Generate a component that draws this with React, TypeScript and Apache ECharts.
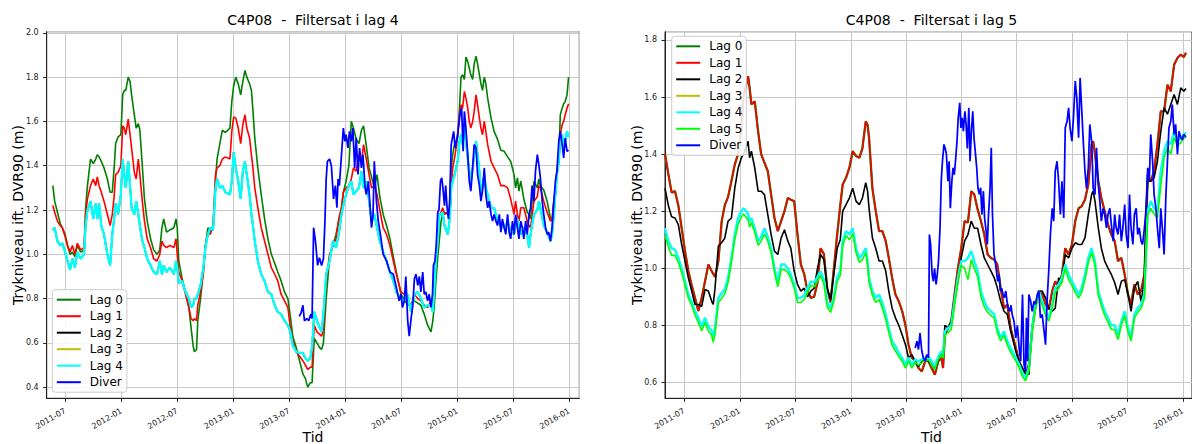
import React, { useEffect, useRef } from "react";
import * as echarts from "echarts";

const FONT = '"DejaVu Sans", "Liberation Sans", Arial, sans-serif';
const DAY = 24 * 3600 * 1000;

// ---------- Left panel: C4P08, filter in layer 4 ----------
const leftDates = [
  "2011-05-22", "2011-05-28", "2011-06-06", "2011-06-15", "2011-06-22", "2011-07-01", "2011-07-09", "2011-07-17",
  "2011-07-25", "2011-08-02", "2011-08-10", "2011-08-21", "2011-09-01", "2011-09-06", "2011-09-12", "2011-09-22",
  "2011-10-01", "2011-10-09", "2011-10-14", "2011-10-20", "2011-10-27", "2011-11-05", "2011-11-16", "2011-11-25",
  "2011-12-02", "2011-12-08", "2011-12-13", "2011-12-21", "2011-12-30", "2012-01-05", "2012-01-10", "2012-01-15",
  "2012-01-23", "2012-01-29", "2012-02-03", "2012-02-12", "2012-02-18", "2012-02-25", "2012-03-01", "2012-03-09",
  "2012-03-16", "2012-03-25", "2012-04-05", "2012-04-15", "2012-04-26", "2012-05-05", "2012-05-12", "2012-05-18",
  "2012-05-27", "2012-06-07", "2012-06-20", "2012-06-27", "2012-07-01", "2012-07-06", "2012-07-17", "2012-07-28",
  "2012-08-08", "2012-08-15", "2012-08-22", "2012-08-26", "2012-09-02", "2012-09-06", "2012-09-15", "2012-09-24",
  "2012-10-01", "2012-10-09", "2012-10-17", "2012-10-26", "2012-11-03", "2012-11-08", "2012-11-17", "2012-11-25",
  "2012-12-05",
  "2012-12-20", "2012-12-26", "2013-01-01", "2013-01-08", "2013-01-16", "2013-01-24", "2013-01-31", "2013-02-07",
  "2013-02-13", "2013-02-22", "2013-02-28", "2013-03-05", "2013-03-11", "2013-03-21", "2013-04-01", "2013-04-12",
  "2013-04-23", "2013-05-04", "2013-05-15", "2013-05-25", "2013-06-05", "2013-06-16", "2013-06-27", "2013-07-05",
  "2013-07-13", "2013-07-24", "2013-08-04", "2013-08-15", "2013-08-23", "2013-08-31", "2013-09-08", "2013-09-14",
  "2013-09-21", "2013-09-30", "2013-10-08", "2013-10-15", "2013-10-21", "2013-10-30", "2013-11-10", "2013-11-21",
  "2013-12-01", "2013-12-10", "2013-12-19", "2013-12-25", "2014-01-03", "2014-01-12", "2014-01-20", "2014-01-27",
  "2014-02-05", "2014-02-14", "2014-02-22", "2014-03-01", "2014-03-10", "2014-03-19", "2014-03-27", "2014-04-05",
  "2014-04-14", "2014-04-23", "2014-05-04", "2014-05-15", "2014-05-26", "2014-06-06", "2014-06-16",
  "2014-07-01", "2014-07-12", "2014-07-23", "2014-08-03", "2014-08-14", "2014-08-25", "2014-09-04", "2014-09-15",
  "2014-09-26", "2014-10-07", "2014-10-13", "2014-10-18", "2014-10-23", "2014-10-29", "2014-11-03", "2014-11-09",
  "2014-11-14", "2014-11-20", "2014-12-01", "2014-12-07", "2014-12-12", "2014-12-17", "2014-12-23", "2014-12-28",
  "2015-01-02", "2015-01-08", "2015-01-13", "2015-01-18", "2015-01-24", "2015-01-29", "2015-02-04", "2015-02-09",
  "2015-02-14", "2015-02-20", "2015-02-25", "2015-03-03", "2015-03-08", "2015-03-14", "2015-03-19", "2015-03-24",
  "2015-03-30", "2015-04-04", "2015-04-10", "2015-04-21", "2015-05-01", "2015-05-12", "2015-05-23", "2015-06-03",
  "2015-06-14", "2015-06-24", "2015-07-05", "2015-07-10", "2015-07-16", "2015-07-21", "2015-07-27", "2015-08-06",
  "2015-08-17", "2015-08-23", "2015-08-28", "2015-09-08", "2015-09-19", "2015-09-24", "2015-09-29", "2015-10-10",
  "2015-10-21", "2015-11-01", "2015-11-06", "2015-11-12", "2015-11-17", "2015-11-22", "2015-11-28", "2015-12-03",
  "2015-12-09", "2015-12-14", "2015-12-19", "2015-12-25", "2015-12-30",
];

const lag0Left = [
  1.31, 1.24, 1.19, 1.14, 1.12, 1.09, 1.04, 1.0, 1.01, 0.99, 1.04, 1.01, 1.02, 1.21, 1.31, 1.43,
  1.41, 1.43, 1.45, 1.44, 1.42, 1.39, 1.34, 1.28, 1.28, 1.39, 1.5, 1.53, 1.54, 1.72, 1.74, 1.74,
  1.8, 1.78, 1.72, 1.63, 1.57, 1.59, 1.56, 1.4, 1.25, 1.15, 1.07, 1.02, 1.0, 1.02, 1.12, 1.16,
  1.1, 1.11, 1.12, 1.16, 1.12, 0.97, 0.89, 0.83, 0.76, 0.67, 0.585, 0.56, 0.57, 0.7, 0.8, 0.92,
  1.04, 1.12, 1.1, 1.13, 1.34, 1.43, 1.5, 1.56, 1.55,
  1.57, 1.69, 1.76, 1.8, 1.77, 1.72, 1.78, 1.83, 1.8, 1.77, 1.74, 1.65, 1.525, 1.39, 1.27, 1.16,
  1.07, 1.0, 0.96, 0.92, 0.88, 0.83, 0.8, 0.72, 0.63, 0.58, 0.52, 0.46, 0.44, 0.4, 0.42, 0.42,
  0.62, 0.6, 0.58, 0.57, 0.6, 0.8, 0.985, 1.04, 1.09, 1.15, 1.21, 1.28, 1.33, 1.4, 1.6, 1.57,
  1.52, 1.5, 1.56, 1.58, 1.49, 1.39, 1.35, 1.3, 1.36, 1.26, 1.18, 1.13, 1.07, 0.99, 0.92,
  0.82, 0.795, 0.77, 0.77, 0.79, 0.78, 0.77, 0.73, 0.68, 0.65, 0.7, 0.77, 0.88, 0.985, 1.06, 1.15,
  1.18, 1.19, 1.18, 1.21, 1.39, 1.45, 1.5, 1.51, 1.525, 1.66, 1.8, 1.81, 1.79, 1.89, 1.87, 1.84,
  1.81, 1.79, 1.86, 1.895, 1.86, 1.81, 1.77, 1.74, 1.8, 1.77, 1.705, 1.615, 1.555, 1.52, 1.47, 1.465,
  1.44, 1.42, 1.36, 1.3, 1.345, 1.285, 1.33, 1.25, 1.19, 1.18, 1.16, 1.33, 1.3, 1.34, 1.31, 1.29,
  1.24, 1.16, 1.15, 1.24, 1.3, 1.375, 1.42, 1.63, 1.66, 1.68, 1.69, 1.72, 1.8,
];

const lag1Left = [
  1.22, 1.19, 1.15, 1.13, 1.12, 1.08, 1.04, 1.01, 1.04, 1.0, 1.05, 1.02, 1.03, 1.18, 1.25, 1.31,
  1.34, 1.31, 1.35, 1.31, 1.28, 1.24, 1.18, 1.13, 1.18, 1.26, 1.36, 1.37, 1.4, 1.58, 1.57, 1.54,
  1.61, 1.54, 1.48, 1.37, 1.34, 1.43, 1.36, 1.24, 1.15, 1.07, 1.03, 0.98, 0.97, 1.0, 1.06, 1.04,
  1.03, 1.04, 1.03, 1.07, 1.0, 0.92, 0.88, 0.82, 0.76, 0.71, 0.7, 0.71, 0.7, 0.77, 0.83, 0.91,
  1.04, 1.1, 1.09, 1.13, 1.36, 1.39, 1.4, 1.43, 1.44,
  1.43, 1.555, 1.62, 1.615, 1.57, 1.5, 1.585, 1.63, 1.57, 1.525, 1.45, 1.39, 1.3, 1.21, 1.12, 1.06,
  1.0, 0.94, 0.91, 0.88, 0.82, 0.79, 0.76, 0.67, 0.61, 0.56, 0.54, 0.52, 0.5, 0.48, 0.49, 0.49,
  0.68, 0.65, 0.64, 0.63, 0.66, 0.88, 1.0, 1.04, 1.07, 1.16, 1.21, 1.28, 1.3, 1.31, 1.34, 1.39,
  1.375, 1.45, 1.42, 1.495, 1.43, 1.36, 1.3, 1.31, 1.27, 1.2, 1.12, 1.09, 1.04, 0.97, 0.91,
  0.83, 0.82, 0.79, 0.77, 0.82, 0.8, 0.79, 0.77, 0.76, 0.79, 0.79, 0.88, 0.97, 1.04, 1.18, 1.19,
  1.21, 1.18, 1.19, 1.16, 1.3, 1.39, 1.435, 1.48, 1.54, 1.63, 1.675, 1.66, 1.735, 1.705, 1.66, 1.6,
  1.57, 1.6, 1.645, 1.72, 1.675, 1.615, 1.57, 1.54, 1.6, 1.555, 1.495, 1.42, 1.39, 1.36, 1.31, 1.31,
  1.3, 1.25, 1.18, 1.24, 1.18, 1.15, 1.21, 1.21, 1.15, 1.13, 1.12, 1.24, 1.26, 1.31, 1.3, 1.24,
  1.19, 1.15, 1.16, 1.24, 1.285, 1.375, 1.42, 1.54, 1.585, 1.6, 1.63, 1.66, 1.68,
];

// Lag 2, Lag 3 and Lag 4 run on top of each other in this panel
const lag2to4Left = [
  1.11, 1.12, 1.06, 1.04, 1.05, 1.01, 0.97, 0.93, 0.98, 0.94, 1.01, 0.98, 1.0, 1.13, 1.2, 1.24,
  1.16, 1.23, 1.16, 1.23, 1.13, 1.09, 1.0, 0.95, 1.09, 1.16, 1.23, 1.18, 1.27, 1.43, 1.36, 1.3,
  1.42, 1.31, 1.21, 1.18, 1.24, 1.18, 1.13, 1.06, 1.03, 0.98, 0.95, 0.92, 0.91, 0.97, 0.91, 0.95,
  0.92, 0.94, 0.91, 0.97, 0.94, 0.87, 0.88, 0.83, 0.8, 0.76, 0.77, 0.8, 0.8, 0.82, 0.86, 0.94,
  1.03, 1.09, 1.12, 1.11, 1.3, 1.34, 1.3, 1.31, 1.28,
  1.27, 1.33, 1.46, 1.39, 1.33, 1.25, 1.375, 1.42, 1.36, 1.27, 1.18, 1.13, 1.06, 0.97, 0.91, 0.88,
  0.83, 0.82, 0.77, 0.74, 0.73, 0.7, 0.68, 0.65, 0.59, 0.56, 0.555, 0.555, 0.53, 0.52, 0.53, 0.58,
  0.74, 0.7, 0.67, 0.65, 0.73, 0.91, 0.97, 1.06, 1.03, 1.09, 1.18, 1.22, 1.27, 1.31, 1.33, 1.27,
  1.285, 1.3, 1.375, 1.3, 1.33, 1.24, 1.15, 1.18, 1.12, 1.06, 1.01, 0.97, 0.92, 0.88, 0.83,
  0.8, 0.79, 0.82, 0.74, 0.82, 0.83, 0.8, 0.76, 0.77, 0.77, 0.74, 0.85, 0.97, 1.06, 1.18, 1.18,
  1.19, 1.13, 1.09, 1.16, 1.3, 1.33, 1.36, 1.39, 1.42, 1.51, 1.54, 1.495, 1.585, 1.51, 1.435, 1.375,
  1.33, 1.39, 1.45, 1.51, 1.45, 1.375, 1.27, 1.31, 1.36, 1.3, 1.27, 1.21, 1.21, 1.15, 1.13, 1.12,
  1.15, 1.1, 1.09, 1.13, 1.16, 1.12, 1.09, 1.12, 1.09, 1.03, 1.09, 1.18, 1.2, 1.24, 1.21, 1.13,
  1.1, 1.06, 1.09, 1.18, 1.27, 1.36, 1.42, 1.525, 1.54, 1.48, 1.51, 1.555, 1.53,
];

const diverLeftDates = [
  "2013-08-03", "2013-08-09", "2013-08-15", "2013-08-20", "2013-08-28", "2013-09-03", "2013-09-10", "2013-09-14",
  "2013-09-19", "2013-09-25", "2013-10-02", "2013-10-08", "2013-10-15", "2013-10-21", "2013-10-26", "2013-10-30",
  "2013-11-03", "2013-11-10", "2013-11-16", "2013-11-23", "2013-11-29", "2013-12-04", "2013-12-08", "2013-12-12",
  "2013-12-19", "2013-12-25", "2013-12-30", "2014-01-03", "2014-01-09", "2014-01-14", "2014-01-20", "2014-01-25",
  "2014-01-31", "2014-02-05", "2014-02-11", "2014-02-16", "2014-02-22", "2014-02-27", "2014-03-06", "2014-03-10",
  "2014-03-17", "2014-03-21", "2014-03-27", "2014-04-01", "2014-04-05", "2014-04-12", "2014-04-18", "2014-04-25",
  "2014-05-04", "2014-05-15", "2014-05-26", "2014-06-06", "2014-06-16", "2014-06-25", "2014-07-01", "2014-07-06",
  "2014-07-12", "2014-07-17", "2014-07-23", "2014-07-28", "2014-08-03", "2014-08-08", "2014-08-14", "2014-08-19",
  "2014-08-25", "2014-08-30", "2014-09-04", "2014-09-10", "2014-09-15", "2014-09-20", "2014-09-26", "2014-10-01",
  "2014-10-07", "2014-10-12", "2014-10-15", "2014-10-20", "2014-10-24", "2014-10-29", "2014-11-02", "2014-11-07",
  "2014-11-11", "2014-11-15", "2014-11-20", "2014-11-24", "2014-11-28", "2014-12-03", "2014-12-07", "2014-12-12",
  "2014-12-16", "2014-12-20", "2014-12-25", "2014-12-29", "2015-01-02", "2015-01-07", "2015-01-11", "2015-01-15",
  "2015-01-20", "2015-01-24", "2015-01-29", "2015-02-04", "2015-02-09", "2015-02-14", "2015-02-20", "2015-02-25",
  "2015-03-03", "2015-03-08", "2015-03-14", "2015-03-19", "2015-03-24", "2015-03-30", "2015-04-04", "2015-04-10",
  "2015-04-15", "2015-04-21", "2015-04-26", "2015-05-01", "2015-05-07", "2015-05-12", "2015-05-18", "2015-05-23",
  "2015-05-28", "2015-06-03", "2015-06-08", "2015-06-14", "2015-06-19", "2015-06-24", "2015-06-30", "2015-07-05",
  "2015-07-10", "2015-07-16", "2015-07-21", "2015-07-27", "2015-08-01", "2015-08-06", "2015-08-12", "2015-08-17",
  "2015-08-23", "2015-08-28", "2015-09-02", "2015-09-08", "2015-09-13", "2015-09-19", "2015-09-24", "2015-09-29",
  "2015-10-05", "2015-10-10", "2015-10-16", "2015-10-21", "2015-10-26", "2015-11-01", "2015-11-06", "2015-11-12",
  "2015-11-17", "2015-11-22", "2015-11-28", "2015-12-03", "2015-12-09", "2015-12-14", "2015-12-19", "2015-12-25",
  "2015-12-30",
];

const diverLeft = [
  0.72, 0.735, 0.77, 0.7, 0.71, 0.7, 0.73, 0.71, 1.12, 1.06, 0.95, 0.985, 0.95, 0.98, 1.15, 1.34,
  1.42, 1.43, 1.4, 1.25, 1.31, 1.21, 1.34, 1.31, 1.45, 1.57, 1.51, 1.54, 1.48, 1.555, 1.51, 1.57,
  1.39, 1.525, 1.36, 1.48, 1.39, 1.45, 1.3, 1.27, 1.33, 1.24, 1.12, 1.18, 1.42, 1.24, 1.15, 1.09,
  1.0, 0.97, 0.92, 0.91, 0.85, 0.79, 0.82, 0.76, 0.79, 0.9, 0.7, 0.63, 0.71, 0.76, 0.89, 0.91,
  0.86, 0.9, 0.83, 0.92, 0.82, 0.83, 0.79, 0.82, 0.76, 0.82, 0.95, 0.97, 1.04, 1.19, 1.2, 1.33,
  1.345, 1.3, 1.22, 1.31, 1.22, 1.16, 1.24, 1.495, 1.525, 1.555, 1.48, 1.51, 1.54, 1.6, 1.645, 1.66,
  1.465, 1.645, 1.57, 1.45, 1.33, 1.285, 1.39, 1.495, 1.48, 1.36, 1.31, 1.24, 1.285, 1.39, 1.27, 1.21,
  1.24, 1.18, 1.15, 1.18, 1.15, 1.13, 1.18, 1.1, 1.16, 1.12, 1.09, 1.18, 1.1, 1.07, 1.15, 1.09,
  1.18, 1.12, 1.07, 1.15, 1.12, 1.07, 1.15, 1.09, 1.18, 1.21, 1.31, 1.24, 1.375, 1.45, 1.405, 1.345,
  1.24, 1.18, 1.12, 1.09, 1.1, 1.06, 1.12, 1.24, 1.33, 1.375, 1.51, 1.555, 1.495, 1.435, 1.525, 1.465,
  1.47,
];

// ---------- Right panel: C4P08, filter in layer 5 ----------
const rightDates = [
  "2011-04-29", "2011-05-10", "2011-05-21", "2011-06-01", "2011-06-12", "2011-06-23", "2011-07-04", "2011-07-15",
  "2011-07-26", "2011-08-06", "2011-08-17", "2011-08-28", "2011-09-08", "2011-09-19", "2011-09-30", "2011-10-05",
  "2011-10-11", "2011-10-22", "2011-11-02", "2011-11-12", "2011-11-23", "2011-12-04", "2011-12-15", "2011-12-26",
  "2012-01-06", "2012-01-12", "2012-01-17", "2012-01-28", "2012-02-02", "2012-02-08", "2012-02-19", "2012-03-01",
  "2012-03-11", "2012-03-22", "2012-04-02", "2012-04-13", "2012-04-24", "2012-05-05", "2012-05-16", "2012-05-27",
  "2012-06-07", "2012-06-17", "2012-06-28", "2012-07-09", "2012-07-20", "2012-07-31", "2012-08-11", "2012-08-22",
  "2012-09-02", "2012-09-13", "2012-09-23", "2012-10-04", "2012-10-15", "2012-10-26", "2012-11-06", "2012-11-17",
  "2012-11-27",
  "2012-12-05", "2012-12-16", "2012-12-27", "2013-01-07", "2013-01-18", "2013-01-29", "2013-02-08", "2013-02-19",
  "2013-02-25", "2013-03-02", "2013-03-13", "2013-03-24", "2013-04-04", "2013-04-15", "2013-04-26", "2013-05-06",
  "2013-05-17", "2013-05-28", "2013-06-08", "2013-06-19", "2013-06-30", "2013-07-10", "2013-07-21", "2013-08-01",
  "2013-08-12", "2013-08-23", "2013-09-03", "2013-09-14", "2013-09-24", "2013-10-05", "2013-10-16", "2013-10-27",
  "2013-11-01", "2013-11-07", "2013-11-18", "2013-11-28", "2013-12-09", "2013-12-20", "2013-12-31", "2014-01-11",
  "2014-01-22", "2014-02-02", "2014-02-12", "2014-02-23", "2014-03-06", "2014-03-17", "2014-03-28", "2014-04-08",
  "2014-04-19", "2014-04-29", "2014-05-10", "2014-05-21", "2014-06-01", "2014-06-12",
  "2014-06-29", "2014-07-10", "2014-07-21", "2014-07-31", "2014-08-11", "2014-08-22", "2014-09-02", "2014-09-13",
  "2014-09-24", "2014-10-05", "2014-10-16", "2014-10-27", "2014-11-06", "2014-11-17", "2014-11-28", "2014-12-09",
  "2014-12-20", "2014-12-31", "2015-01-11", "2015-01-22", "2015-02-01", "2015-02-12", "2015-02-23", "2015-03-06",
  "2015-03-11", "2015-03-17", "2015-03-28", "2015-04-07", "2015-04-18", "2015-04-29", "2015-05-10", "2015-05-21",
  "2015-06-01", "2015-06-12", "2015-06-23", "2015-07-04", "2015-07-14", "2015-07-25", "2015-08-05", "2015-08-16",
  "2015-08-27", "2015-09-01", "2015-09-07", "2015-09-17", "2015-09-28", "2015-10-09", "2015-10-20", "2015-10-31",
  "2015-11-11", "2015-11-22", "2015-12-03", "2015-12-14", "2015-12-25", "2016-01-04", "2016-01-11",
];

// Lag 0 and Lag 1 practically coincide in this panel
const lag01Right = [
  1.4, 1.33, 1.265, 1.27, 1.22, 1.14, 1.06, 0.99, 0.94, 0.896, 0.85, 0.896, 0.954, 1.013, 0.99, 0.98,
  0.97, 1.025, 1.165, 1.22, 1.25, 1.305, 1.363, 1.4, 1.49, 1.6, 1.62, 1.673, 1.632, 1.574, 1.585, 1.48,
  1.4, 1.37, 1.34, 1.258, 1.176, 1.13, 1.165, 1.2, 1.246, 1.24, 1.235, 1.118, 1.013, 0.98, 0.92, 0.896,
  0.9, 0.95, 1.07, 1.05, 0.93, 0.88, 1.0, 1.12, 1.22,
  1.293, 1.317, 1.352, 1.41, 1.393, 1.387, 1.42, 1.515, 1.503, 1.457, 1.28, 1.2, 1.13, 1.13, 1.095, 1.036,
  0.966, 0.908, 0.884, 0.85, 0.8, 0.732, 0.686, 0.674, 0.65, 0.638, 0.674, 0.674, 0.65, 0.627, 0.674, 0.686,
  0.65, 0.767, 0.79, 0.814, 0.908, 1.0, 1.07, 1.165, 1.16, 1.27, 1.258, 1.206, 1.165, 1.118, 1.048, 1.036,
  1.03, 1.013, 0.931, 0.86, 0.873, 0.79,
  0.72, 0.674, 0.645, 0.62, 0.662, 0.79, 0.873, 0.92, 0.908, 0.873, 0.855, 0.92, 0.954, 0.931, 0.978, 1.07,
  1.048, 1.083, 1.165, 1.21, 1.217, 1.24, 1.293, 1.434, 1.445, 1.4, 1.305, 1.246, 1.2, 1.153, 1.118, 1.095,
  1.025, 1.036, 0.978, 0.908, 0.873, 0.943, 0.908, 0.92, 0.978, 1.118, 1.328, 1.305, 1.34, 1.434, 1.55, 1.55,
  1.643, 1.62, 1.713, 1.737, 1.749, 1.74, 1.755,
];

const lag2Right = [
  1.28, 1.22, 1.18, 1.176, 1.153, 1.083, 1.025, 0.966, 0.92, 0.873, 0.873, 0.866, 0.925, 0.92, 0.884, 0.873,
  0.93, 1.077, 1.09, 1.105, 1.165, 1.176, 1.28, 1.35, 1.387, 1.4, 1.41, 1.445, 1.387, 1.41, 1.352, 1.27,
  1.27, 1.258, 1.188, 1.118, 1.06, 1.048, 1.106, 1.135, 1.095, 1.07, 0.99, 0.943, 0.92, 0.93, 0.9, 0.92,
  0.93, 1.0, 1.048, 1.03, 0.93, 0.89, 0.98, 1.07, 1.1,
  1.2, 1.223, 1.246, 1.28, 1.235, 1.223, 1.246, 1.3, 1.27, 1.21, 1.106, 1.07, 1.025, 1.025, 0.99, 0.92,
  0.86, 0.826, 0.8, 0.767, 0.732, 0.686, 0.697, 0.674, 0.655, 0.674, 0.686, 0.674, 0.662, 0.645, 0.674, 0.709,
  0.686, 0.8, 0.79, 0.814, 0.884, 0.954, 1.036, 1.095, 1.118, 1.165, 1.14, 1.14, 1.083, 1.036, 1.013, 0.99,
  0.966, 0.931, 0.884, 0.849, 0.838, 0.779,
  0.709, 0.668, 0.65, 0.633, 0.627, 0.79, 0.86, 0.92, 0.92, 0.896, 0.86, 0.849, 0.86, 0.966, 0.954, 1.048,
  1.036, 1.07, 1.089, 1.083, 1.083, 1.106, 1.188, 1.258, 1.27, 1.235, 1.141, 1.07, 1.025, 1.0, 0.978, 0.95,
  0.908, 0.954, 0.96, 0.908, 0.849, 0.931, 0.954, 0.884, 0.954, 1.188, 1.305, 1.305, 1.317, 1.375, 1.48, 1.562,
  1.54, 1.574, 1.609, 1.574, 1.632, 1.62, 1.63,
];

// Lag 3 and Lag 4 practically coincide in this panel
const lag34Right = [
  1.14, 1.095, 1.07, 1.065, 1.036, 1.0, 0.954, 0.908, 0.884, 0.85, 0.826, 0.797, 0.826, 0.797, 0.78, 0.762,
  0.79, 0.896, 0.913, 0.925, 0.966, 1.036, 1.118, 1.176, 1.2, 1.21, 1.206, 1.19, 1.165, 1.176, 1.14, 1.095,
  1.11, 1.14, 1.11, 1.07, 1.0, 0.954, 1.013, 1.013, 1.0, 0.978, 0.943, 0.896, 0.896, 0.905, 0.931, 0.954,
  0.95, 0.97, 0.99, 0.96, 0.88, 0.86, 0.9, 0.97, 0.99,
  1.095, 1.13, 1.118, 1.14, 1.07, 1.036, 1.048, 1.07, 1.025, 0.966, 0.92, 0.896, 0.908, 0.878, 0.838, 0.79,
  0.744, 0.727, 0.703, 0.686, 0.662, 0.686, 0.662, 0.68, 0.674, 0.68, 0.686, 0.69, 0.674, 0.656, 0.69, 0.709,
  0.697, 0.779, 0.79, 0.8, 0.884, 0.966, 1.025, 1.025, 1.036, 1.06, 1.025, 0.99, 0.92, 0.884, 0.86, 0.849,
  0.838, 0.79, 0.756, 0.779, 0.744, 0.72,
  0.686, 0.662, 0.633, 0.615, 0.65, 0.79, 0.873, 0.92, 0.884, 0.849, 0.826, 0.873, 0.931, 0.943, 0.966, 1.013,
  0.978, 0.954, 0.931, 0.908, 0.931, 0.978, 1.036, 1.07, 1.048, 1.025, 0.92, 0.884, 0.849, 0.826, 0.8, 0.8,
  0.767, 0.814, 0.849, 0.79, 0.756, 0.838, 0.86, 0.873, 0.908, 1.036, 1.2, 1.235, 1.21, 1.2, 1.34, 1.41,
  1.445, 1.434, 1.48, 1.445, 1.457, 1.47, 1.475,
];

const lag5Right = [
  1.115, 1.075, 1.045, 1.045, 1.02, 0.985, 0.94, 0.895, 0.87, 0.835, 0.81, 0.78, 0.81, 0.78, 0.765, 0.74,
  0.77, 0.88, 0.895, 0.91, 0.95, 1.02, 1.1, 1.155, 1.18, 1.19, 1.185, 1.17, 1.145, 1.16, 1.125, 1.08,
  1.095, 1.12, 1.095, 1.055, 0.985, 0.935, 0.995, 0.995, 0.985, 0.965, 0.93, 0.88, 0.88, 0.89, 0.915, 0.94,
  0.935, 0.955, 0.975, 0.945, 0.865, 0.845, 0.885, 0.955, 0.975,
  1.08, 1.115, 1.1, 1.12, 1.055, 1.02, 1.03, 1.055, 1.01, 0.95, 0.905, 0.88, 0.89, 0.86, 0.82, 0.775,
  0.73, 0.71, 0.69, 0.675, 0.65, 0.675, 0.65, 0.67, 0.66, 0.67, 0.675, 0.68, 0.66, 0.645, 0.68, 0.695,
  0.685, 0.765, 0.775, 0.785, 0.87, 0.95, 1.01, 1.0, 0.96, 1.03, 1.0, 0.97, 0.9, 0.865, 0.845, 0.835,
  0.825, 0.775, 0.745, 0.765, 0.73, 0.705,
  0.675, 0.65, 0.62, 0.605, 0.64, 0.775, 0.86, 0.905, 0.87, 0.835, 0.815, 0.86, 0.915, 0.93, 0.95, 1.0,
  0.96, 0.94, 0.915, 0.895, 0.915, 0.96, 1.02, 1.055, 1.035, 1.01, 0.905, 0.87, 0.835, 0.81, 0.785, 0.785,
  0.75, 0.8, 0.835, 0.775, 0.745, 0.825, 0.845, 0.86, 0.895, 1.025, 1.188, 1.21, 1.19, 1.176, 1.29, 1.387,
  1.422, 1.4, 1.457, 1.43, 1.44, 1.455, 1.46,
];

const diverRightDates = [
  "2013-08-01", "2013-08-07", "2013-08-12", "2013-08-17", "2013-08-23", "2013-08-28", "2013-09-03", "2013-09-08",
  "2013-09-14", "2013-09-17", "2013-09-21", "2013-09-26", "2013-09-30", "2013-10-04", "2013-10-09", "2013-10-13",
  "2013-10-17", "2013-10-22", "2013-10-26", "2013-10-30", "2013-11-04", "2013-11-08", "2013-11-12", "2013-11-17",
  "2013-11-21", "2013-11-25", "2013-11-30", "2013-12-04", "2013-12-08", "2013-12-12", "2013-12-17", "2013-12-21",
  "2013-12-26", "2013-12-30", "2014-01-03", "2014-01-07", "2014-01-12", "2014-01-16", "2014-01-20", "2014-01-25",
  "2014-01-29", "2014-02-03", "2014-02-07", "2014-02-11", "2014-02-16", "2014-02-20", "2014-02-24", "2014-03-01",
  "2014-03-05", "2014-03-09", "2014-03-14", "2014-03-18", "2014-03-23", "2014-03-27", "2014-03-31", "2014-04-05",
  "2014-04-09", "2014-04-13", "2014-04-18", "2014-04-22", "2014-04-26", "2014-04-30", "2014-05-05", "2014-05-09",
  "2014-05-13", "2014-05-18", "2014-05-22", "2014-05-27", "2014-05-31", "2014-06-04", "2014-06-09", "2014-06-13",
  "2014-06-17", "2014-06-23", "2014-06-29", "2014-07-04", "2014-07-10", "2014-07-15", "2014-07-21", "2014-07-26",
  "2014-07-31", "2014-08-03", "2014-08-07", "2014-08-11", "2014-08-17", "2014-08-22", "2014-08-28", "2014-09-02",
  "2014-09-08", "2014-09-13", "2014-09-18", "2014-09-24", "2014-09-29", "2014-10-05", "2014-10-10", "2014-10-16",
  "2014-10-21", "2014-10-27", "2014-11-01", "2014-11-06", "2014-11-12", "2014-11-17", "2014-11-23", "2014-11-28",
  "2014-12-04", "2014-12-09", "2014-12-15", "2014-12-20", "2014-12-25", "2014-12-31", "2015-01-05", "2015-01-11",
  "2015-01-16", "2015-01-22", "2015-01-27", "2015-02-01", "2015-02-07", "2015-02-12", "2015-02-17", "2015-02-23",
  "2015-02-28", "2015-03-06", "2015-03-11", "2015-03-17", "2015-03-22", "2015-03-28", "2015-04-02", "2015-04-07",
  "2015-04-13", "2015-04-18", "2015-04-24", "2015-04-29", "2015-05-05", "2015-05-10", "2015-05-16", "2015-05-21",
  "2015-05-26", "2015-06-01", "2015-06-06", "2015-06-12", "2015-06-17", "2015-06-23", "2015-06-28", "2015-07-04",
  "2015-07-09", "2015-07-14", "2015-07-20", "2015-07-25", "2015-07-31", "2015-08-05", "2015-08-10", "2015-08-16",
  "2015-08-21", "2015-08-27", "2015-09-01", "2015-09-07", "2015-09-12", "2015-09-17", "2015-09-23", "2015-09-28",
  "2015-10-04", "2015-10-09", "2015-10-15", "2015-10-20", "2015-10-26", "2015-10-31", "2015-11-06", "2015-11-11",
  "2015-11-16", "2015-11-22", "2015-11-27", "2015-12-03", "2015-12-08", "2015-12-14", "2015-12-19", "2015-12-25",
  "2015-12-30", "2016-01-04", "2016-01-11",
];

const diverRight = [
  0.72, 0.744, 0.715, 0.773, 0.709, 0.686, 0.674, 0.697, 0.686, 1.118, 1.083, 0.978, 0.954, 1.0, 0.943, 0.978,
  1.025, 1.141, 1.305, 1.375, 1.434, 1.42, 1.4, 1.305, 1.375, 1.21, 1.305, 1.352, 1.328, 1.375, 1.445, 1.527,
  1.58, 1.492, 1.527, 1.48, 1.55, 1.504, 1.42, 1.562, 1.375, 1.492, 1.55, 1.457, 1.4, 1.352, 1.282, 1.258,
  1.282, 1.188, 1.27, 1.176, 1.13, 1.083, 1.188, 1.282, 1.422, 1.188, 1.048, 1.025, 0.99, 0.954, 0.978, 0.92,
  0.93, 0.908, 0.896, 0.92, 0.884, 0.86, 0.849, 0.87, 0.838, 0.814, 0.756, 0.8, 0.72, 0.674, 0.908, 0.662,
  0.638, 0.826, 0.674, 0.908, 0.884, 0.849, 0.884, 0.873, 0.908, 0.92, 0.826, 0.838, 0.79, 0.732, 0.884, 1.0,
  1.118, 1.21, 1.165, 1.34, 1.375, 1.305, 1.188, 1.305, 1.176, 1.492, 1.515, 1.562, 1.492, 1.445, 1.527, 1.656,
  1.597, 1.457, 1.667, 1.562, 1.434, 1.34, 1.28, 1.352, 1.504, 1.445, 1.282, 1.258, 1.422, 1.293, 1.235, 1.165,
  1.21, 1.188, 1.141, 1.188, 1.21, 1.153, 1.095, 1.188, 1.141, 1.118, 1.188, 1.095, 1.141, 1.223, 1.118, 1.07,
  1.258, 1.141, 1.083, 1.188, 1.21, 1.118, 1.141, 1.095, 1.083, 1.141, 1.2, 1.352, 1.305, 1.469, 1.375, 1.258,
  1.21, 1.141, 1.07, 1.21, 1.13, 1.048, 1.258, 1.375, 1.492, 1.515, 1.574, 1.469, 1.504, 1.4, 1.48, 1.457,
  1.45, 1.469, 1.46,
];

const leftLegend = ["Lag 0", "Lag 1", "Lag 2", "Lag 3", "Lag 4", "Diver"];
const rightLegend = ["Lag 0", "Lag 1", "Lag 2", "Lag 3", "Lag 4", "Lag 5", "Diver"];

const COLORS: Record<string, string> = {
  "Lag 0": "#008000",
  "Lag 1": "#ff0000",
  "Lag 2": "#000000",
  "Lag 3": "#bfbf00",
  "Lag 4": "#00ffff",
  "Lag 5": "#00ff00",
  Diver: "#0000ff",
};

const pair = (dates: string[], values: number[]) =>
  dates.map((d, i) => [d, values[i]]).filter((p) => typeof p[1] === "number");

function lineSeries(name: string, idx: number, data: any[], width: number) {
  return {
    type: "line",
    name,
    xAxisIndex: idx,
    yAxisIndex: idx,
    data,
    symbol: "none",
    showSymbol: false,
    lineStyle: { color: COLORS[name], width },
    itemStyle: { color: COLORS[name] },
    emphasis: { disabled: true },
  };
}

const fmtMonth = (v: number) => {
  const d = new Date(v);
  return `${d.getFullYear()}-${String(d.getMonth() + 1).padStart(2, "0")}`;
};

function timeAxis(idx: number, min: string, max: string) {
  return {
    type: "time",
    gridIndex: idx,
    min,
    max,
    splitNumber: 10,
    minInterval: 183 * DAY,
    maxInterval: 184 * DAY,
    axisLine: { show: true, lineStyle: { color: "#222", width: 1 } },
    axisTick: { show: true, length: 3.5, lineStyle: { color: "#222", width: 1 } },
    axisLabel: {
      rotate: 30,
      fontSize: 8,
      color: "#222",
      fontFamily: FONT,
      margin: 12,
      showMinLabel: false,
      showMaxLabel: false,
      hideOverlap: false,
      formatter: fmtMonth,
    },
    splitLine: { show: true, lineStyle: { color: "#c8c8c8", width: 1 } },
  };
}

function valueAxis(idx: number, min: number, max: number, splitNumber: number) {
  return {
    type: "value",
    gridIndex: idx,
    min,
    max,
    splitNumber,
    axisLine: { show: true, lineStyle: { color: "#222", width: 1 } },
    axisTick: { show: true, length: 3.5, lineStyle: { color: "#222", width: 1 } },
    axisLabel: {
      fontSize: 8,
      color: "#222",
      fontFamily: FONT,
      margin: 8,
      showMinLabel: false,
      showMaxLabel: false,
      formatter: (v: number) => v.toFixed(1),
    },
    splitLine: { show: true, lineStyle: { color: "#c8c8c8", width: 1 } },
  };
}

function legend(data: string[], left: number, top: number) {
  return {
    data,
    orient: "vertical",
    left,
    top,
    itemWidth: 24,
    itemHeight: 14,
    itemGap: 2.5,
    padding: [3, 4, 3, 3.5],
    backgroundColor: "rgba(255,255,255,0.85)",
    borderColor: "#cccccc",
    borderWidth: 1,
    borderRadius: 3,
    selectedMode: false,
    // only the line sample is shown, no marker on it
    itemStyle: { opacity: 0 },
    textStyle: {
      fontSize: 12,
      lineHeight: 14,
      color: "#000",
      fontFamily: FONT,
      padding: [0, 0, 0, 4],
    },
  };
}

function label(text: string, x: number, y: number, size: number, rotation = 0) {
  return {
    type: "text",
    x,
    y,
    rotation,
    silent: true,
    style: {
      text,
      fill: "#000",
      font: `${size}px ${FONT}`,
      textAlign: "center",
      textVerticalAlign: "middle",
    },
  };
}

export default function App() {
  const ref = useRef<HTMLDivElement>(null);

  useEffect(() => {
    if (!ref.current) return;
    const chart = echarts.init(ref.current, undefined, { renderer: "svg" });

    const series = [
      lineSeries("Lag 0", 0, pair(leftDates, lag0Left), 1.6),
      lineSeries("Lag 1", 0, pair(leftDates, lag1Left), 1.6),
      lineSeries("Lag 2", 0, pair(leftDates, lag2to4Left), 1.6),
      lineSeries("Lag 3", 0, pair(leftDates, lag2to4Left), 1.6),
      lineSeries("Lag 4", 0, pair(leftDates, lag2to4Left), 2.3),
      lineSeries("Diver", 0, pair(diverLeftDates, diverLeft), 1.75),

      lineSeries("Lag 0", 1, pair(rightDates, lag01Right), 2.3),
      lineSeries("Lag 1", 1, pair(rightDates, lag01Right), 1.6),
      lineSeries("Lag 2", 1, pair(rightDates, lag2Right), 1.6),
      lineSeries("Lag 3", 1, pair(rightDates, lag34Right), 1.6),
      lineSeries("Lag 4", 1, pair(rightDates, lag34Right), 2.3),
      lineSeries("Lag 5", 1, pair(rightDates, lag5Right), 1.6),
      lineSeries("Diver", 1, pair(diverRightDates, diverRight), 1.75),
    ];

    chart.setOption({
      animation: false,
      backgroundColor: "#ffffff",
      grid: [
        { left: 46.7, top: 31.7, width: 532.6, height: 366.6, show: true, borderColor: "#222", borderWidth: 1, backgroundColor: "transparent" },
        { left: 665, top: 31.7, width: 533, height: 366.6, show: true, borderColor: "#222", borderWidth: 1, backgroundColor: "transparent" },
      ],
      xAxis: [timeAxis(0, "2011-05-02", "2016-02-03"), timeAxis(1, "2011-04-29", "2016-01-31")],
      yAxis: [valueAxis(0, 0.35, 2.005, 8), valueAxis(1, 0.544, 1.829, 6)],
      legend: [legend(leftLegend, 52.3, 289.7), legend(rightLegend, 671.7, 36.3)],
      graphic: [
        label("C4P08  -  Filtersat i lag 4", 313, 20, 14),
        label("C4P08  -  Filtersat i lag 5", 931.5, 20, 14),
        label("Tid", 313, 437, 14),
        label("Tid", 931.5, 437, 14),
        label("Trykniveau ift. DVR90 (m)", 18, 215, 14, Math.PI / 2),
        label("Trykniveau ift. DVR90 (m)", 637, 215, 14, Math.PI / 2),
      ],
      series,
    });

    return () => chart.dispose();
  }, []);

  return (
    <div
      ref={ref}
      style={{ position: "fixed", left: 0, top: 0, width: 1192, height: 444, background: "#fff" }}
    />
  );
}
